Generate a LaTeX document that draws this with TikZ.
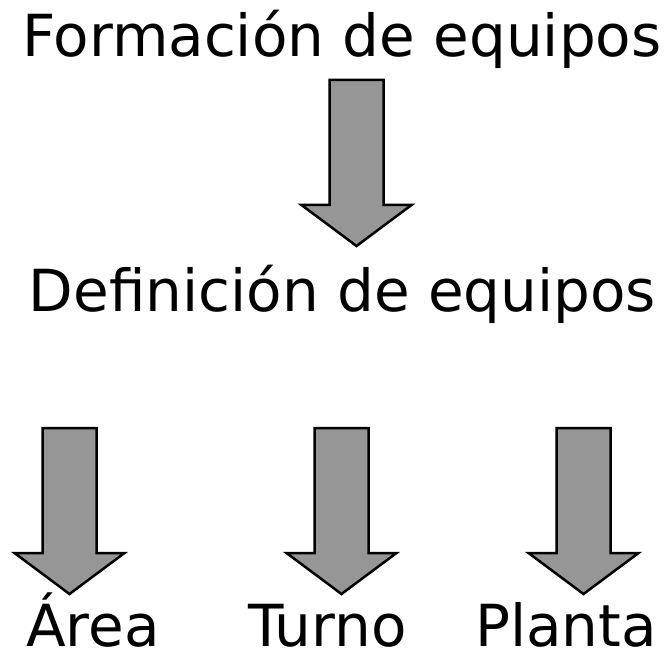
\documentclass[tikz,border=0pt]{standalone}
\usepackage{fontspec}
\setmainfont{DejaVu Sans}
\definecolor{arrowgray}{RGB}{150,150,150}
\tikzset{
  label/.style={font=\fontsize{58}{60}\selectfont, inner sep=0pt, anchor=base},
  blockarrow/.style={draw=black, line width=2.5pt, fill=arrowgray, line join=miter}
}
% block arrow pointing down: centre x, top y
\newcommand{\downblock}[2]{%
  \draw[blockarrow] (#1-27,#2) -- (#1+27,#2) -- (#1+27,#2+125) -- (#1+55,#2+125)
    -- (#1,#2+166) -- (#1-55,#2+125) -- (#1-27,#2+125) -- cycle;}
\begin{document}
\begin{tikzpicture}[x=1pt,y=-1pt]
    \useasboundingbox (0,0) rectangle (670,655);
    \node[label] at (342, 57) (formacion) {Formación de equipos};
    \node[label] at (342.5, 312) (definicion) {Definición de equipos};
    \node[label] at (93, 646) (area) {Área};
    \node[label] at (327.5, 646) (turno) {Turno};
    \node[label] at (566, 646) (planta) {Planta};

    \downblock{356.5}{80}
    \downblock{69.5}{428}
    \downblock{341.5}{428}
    \downblock{583.5}{428}
\end{tikzpicture}
\end{document}
